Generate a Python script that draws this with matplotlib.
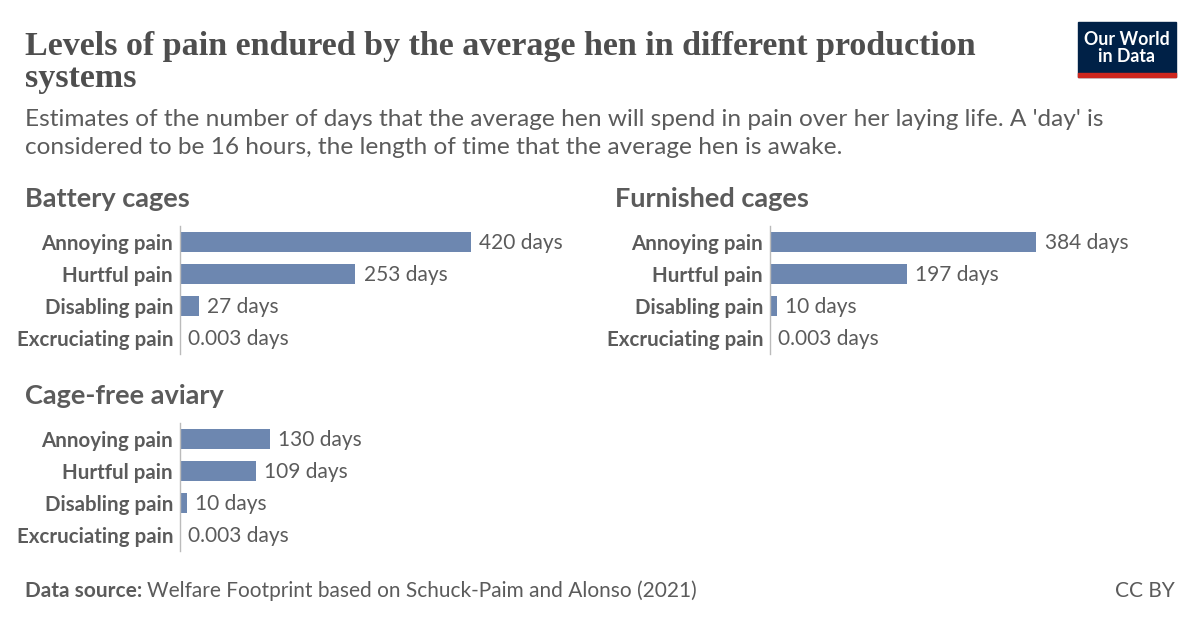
import matplotlib
matplotlib.use('Agg')
import matplotlib.pyplot as plt
from matplotlib.patches import Rectangle

W, H = 1200, 627

pain_levels = ['Annoying pain', 'Hurtful pain', 'Disabling pain', 'Excruciating pain']
battery_days = [420, 253, 27, 0.003]
furnished_days = [384, 197, 10, 0.003]
aviary_days = [130, 109, 10, 0.003]
battery_labels = ['420 days', '253 days', '27 days', '0.003 days']
furnished_labels = ['384 days', '197 days', '10 days', '0.003 days']
aviary_labels = ['130 days', '109 days', '10 days', '0.003 days']

BAR = '#6d87b0'
TXT = '#5b5b5b'
DARK = '#4e4e4e'

plt.rcParams['font.family'] = ['Lato', 'DejaVu Sans']

fig = plt.figure(figsize=(W / 100, H / 100), dpi=100)


def fx(x):
    return x / W


def fy(y):
    return 1 - y / H


def panel(left, top, title, values, labels):
    fig.text(fx(left - 155), fy(top - 27), title, fontsize=19.5, fontweight='bold',
             color=TXT, ha='left', va='center')
    ax = fig.add_axes([fx(left), fy(top + 128), 400 / W, 128 / H])
    ax.barh(range(len(values)), values, height=0.62, color=BAR)
    ax.set_xlim(0, 577)
    ax.set_ylim(3.5, -0.5)
    ax.set_yticks(range(len(values)))
    ax.set_yticklabels(pain_levels, fontsize=14.8, fontweight='bold', color=TXT)
    ax.tick_params(axis='y', length=0, pad=5)
    ax.set_xticks([])
    for s in ['top', 'right', 'bottom']:
        ax.spines[s].set_visible(False)
    ax.spines['left'].set_color('#bbbbbb')
    ax.spines['left'].set_linewidth(1)
    ax.patch.set_alpha(0)
    for i, (v, lab) in enumerate(zip(values, labels)):
        ax.annotate(lab, (v, i), xytext=(6, -0.8), textcoords='offset points',
                    fontsize=15, color=TXT, ha='left', va='center')
    return ax


panel(180, 226, 'Battery cages', battery_days, battery_labels)
panel(770, 226, 'Furnished cages', furnished_days, furnished_labels)
panel(180, 423, 'Cage-free aviary', aviary_days, aviary_labels)

# title and subtitle
fig.text(fx(25), fy(46), 'Levels of pain endured by the average hen in different production',
         family=['Liberation Serif', 'DejaVu Serif'], fontsize=24.5, fontweight='bold',
         color=DARK, ha='left', va='center')
fig.text(fx(25), fy(78), 'systems',
         family=['Liberation Serif', 'DejaVu Serif'], fontsize=24.5, fontweight='bold',
         color=DARK, ha='left', va='center')
fig.text(fx(25), fy(120), "Estimates of the number of days that the average hen will spend in pain over her laying life. A 'day' is",
         fontsize=17.6, color=TXT, ha='left', va='center')
fig.text(fx(25), fy(147), "considered to be 16 hours, the length of time that the average hen is awake.",
         fontsize=17.6, color=TXT, ha='left', va='center')

# logo
fig.patches.append(Rectangle((fx(1078), fy(77)), 98 / W, 55 / H, transform=fig.transFigure,
                             color='#002147', zorder=5))
fig.patches.append(Rectangle((fx(1078), fy(77)), 98 / W, 4 / H, transform=fig.transFigure,
                             color='#ce261e', zorder=6))
fig.text(fx(1127), fy(48), 'Our World\nin Data', fontsize=12.8, color='white', ha='center',
         va='center', linespacing=1.0, zorder=7, fontweight='bold')

# footer
t = fig.text(fx(25), fy(591), 'Data source:', fontsize=15, fontweight='bold', color=TXT,
             ha='left', va='center')
fig.canvas.draw()
bb = t.get_window_extent()
fig.text(bb.x1 / W + 5 / W, fy(591), 'Welfare Footprint based on Schuck-Paim and Alonso (2021)',
         fontsize=15, color=TXT, ha='left', va='center')
fig.text(fx(1175), fy(591), 'CC BY', fontsize=15, color=TXT, ha='right', va='center')

fig.savefig('out.png', dpi=100)
